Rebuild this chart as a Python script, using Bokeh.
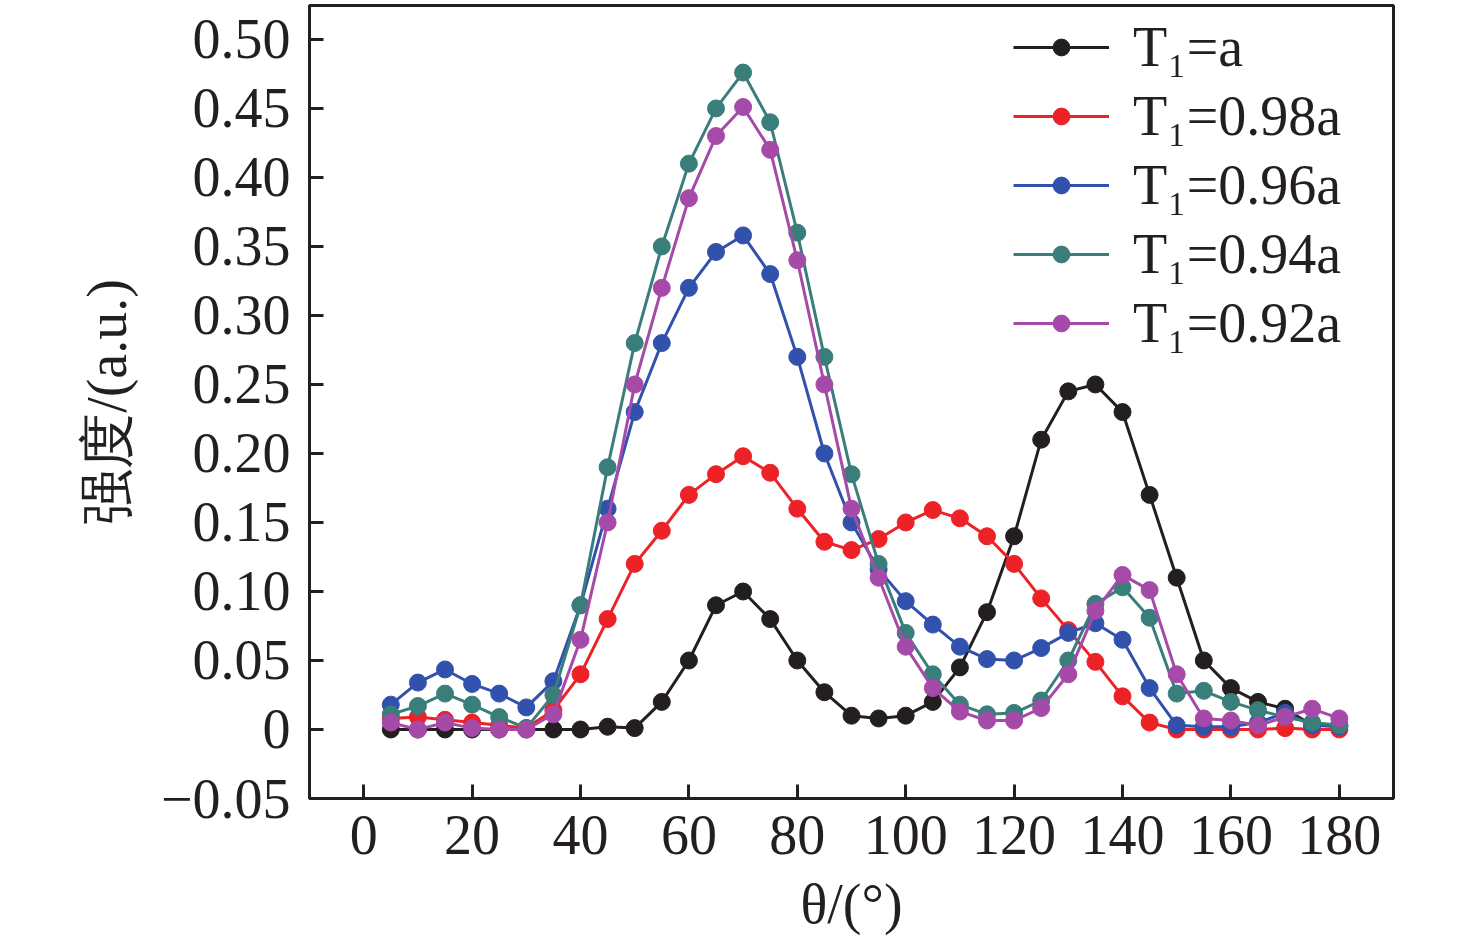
from bokeh.plotting import figure
from bokeh.models import (Range1d, FixedTicker, CustomJSTickFormatter, Legend, LegendItem)
from bokeh.embed import file_html
from bokeh.resources import INLINE

# ---------------- data ----------------
theta = [5, 10, 15, 20, 25, 30, 35, 40, 45, 50, 55, 60, 65, 70, 75, 80, 85, 90,
         95, 100, 105, 110, 115, 120, 125, 130, 135, 140, 145, 150, 155, 160, 165, 170, 175, 180]

t_a = [0, 0, 0, 0, 0, 0, 0, 0, 0.002, 0.001,
       0.02, 0.05, 0.09, 0.10, 0.08, 0.05, 0.027, 0.01, 0.008, 0.01,
       0.02, 0.045, 0.085, 0.14, 0.21, 0.245, 0.25, 0.23, 0.17, 0.11,
       0.05, 0.03, 0.02, 0.015, 0.003, 0.003]
t_098 = [0.008, 0.009, 0.007, 0.005, 0.003, 0.001, 0.014, 0.04, 0.08, 0.12,
         0.144, 0.17, 0.185, 0.198, 0.186, 0.16, 0.136, 0.13, 0.138, 0.15,
         0.159, 0.153, 0.14, 0.12, 0.095, 0.072, 0.049, 0.024, 0.005, 0,
         0, 0, 0, 0.001, 0, 0]
t_096 = [0.018, 0.034, 0.0435, 0.033, 0.026, 0.016, 0.035, 0.09, 0.16, 0.23,
         0.28, 0.32, 0.346, 0.358, 0.33, 0.27, 0.2, 0.15, 0.116, 0.093,
         0.076, 0.06, 0.051, 0.05, 0.059, 0.07, 0.077, 0.065, 0.03, 0.003,
         0.002, 0.002, 0.005, 0.012, 0.003, 0.002]
t_094 = [0.011, 0.017, 0.026, 0.018, 0.009, 0.001, 0.025, 0.09, 0.19, 0.28,
         0.35, 0.41, 0.45, 0.476, 0.44, 0.36, 0.27, 0.185, 0.12, 0.07,
         0.04, 0.018, 0.011, 0.012, 0.021, 0.05, 0.091, 0.103, 0.081, 0.026,
         0.028, 0.02, 0.014, 0.009, 0.005, 0.003]
t_092 = [0.005, 0, 0.005, 0.001, 0, 0, 0.011, 0.065, 0.15, 0.25,
         0.32, 0.385, 0.43, 0.451, 0.42, 0.34, 0.25, 0.16, 0.11, 0.06,
         0.03, 0.013, 0.0065, 0.0065, 0.0155, 0.04, 0.086, 0.112, 0.101, 0.04,
         0.008, 0.0065, 0.003, 0.009, 0.015, 0.008]

series_labels = ["T\u2081=a", "T\u2081=0.98a", "T\u2081=0.96a", "T\u2081=0.94a", "T\u2081=0.92a"]
series_values = [t_a, t_098, t_096, t_094, t_092]
series_colors = ["#231f20", "#ec2227", "#3151ad", "#3a7e7c", "#a54aa8"]

x_ticks = [0, 20, 40, 60, 80, 100, 120, 140, 160, 180]
y_ticks = [-0.05, 0, 0.05, 0.10, 0.15, 0.20, 0.25, 0.30, 0.35, 0.40, 0.45, 0.50]

x_title = "\u03b8/(\u00b0)"
y_title = "\u5f3a\u5ea6/(a.u.)"

FONT = "Liberation Serif"
FS = "56px"

# ---------------- figure ----------------
p = figure(width=1476, height=943, output_backend="svg", toolbar_location=None,
           x_range=Range1d(-10, 190), y_range=Range1d(-0.05, 0.5246),
           min_border_left=309, min_border_right=83, min_border_top=5,
           min_border_bottom=145)

p.xgrid.visible = False
p.ygrid.visible = False
p.outline_line_color = "#231f20"
p.outline_line_width = 3
p.outline_line_alpha = 1
p.background_fill_color = "white"
p.border_fill_color = "white"

for ax in (p.xaxis[0], p.yaxis[0]):
    ax.axis_line_color = "#231f20"
    ax.axis_line_width = 3
    ax.major_tick_line_color = "#231f20"
    ax.major_tick_line_width = 3
    ax.major_tick_in = 14
    ax.major_tick_out = 0
    ax.minor_tick_line_color = None
    ax.major_label_text_font = FONT
    ax.major_label_text_font_size = FS
    ax.major_label_text_color = "#231f20"
    ax.axis_label_text_font = FONT
    ax.axis_label_text_font_size = FS
    ax.axis_label_text_font_style = "normal"
    ax.axis_label_text_color = "#231f20"

p.xaxis.ticker = FixedTicker(ticks=x_ticks)
p.yaxis.ticker = FixedTicker(ticks=y_ticks)
p.yaxis.formatter = CustomJSTickFormatter(code="""
    if (Math.abs(tick) < 1e-9) { return "0"; }
    const s = Math.abs(tick).toFixed(2);
    return (tick < 0 ? "\u2212" : "") + s;
""")
p.xaxis.major_label_standoff = 17
p.yaxis.major_label_standoff = 19
p.xaxis.axis_label = x_title
p.yaxis.axis_label = y_title
p.xaxis.axis_label_standoff = 16
p.yaxis.axis_label_standoff = 20

items = []
for lab, vals, col in zip(series_labels, series_values, series_colors):
    lr = p.line(theta, vals, line_color=col, line_width=3)
    sr = p.scatter(theta, vals, marker="circle", size=17, fill_color=col, line_color=col)
    items.append(LegendItem(label=lab, renderers=[lr, sr]))

legend = Legend(items=items, location=(704, 443))
legend.label_text_font = FONT
legend.label_text_font_size = FS
legend.label_text_color = "#231f20"
legend.glyph_width = 96
legend.glyph_height = 42
legend.label_standoff = 24
legend.spacing = 5
legend.padding = 0
legend.margin = 0
legend.border_line_alpha = 0
legend.background_fill_alpha = 0
p.add_layout(legend)

open("out.html", "w").write(file_html(p, INLINE))
